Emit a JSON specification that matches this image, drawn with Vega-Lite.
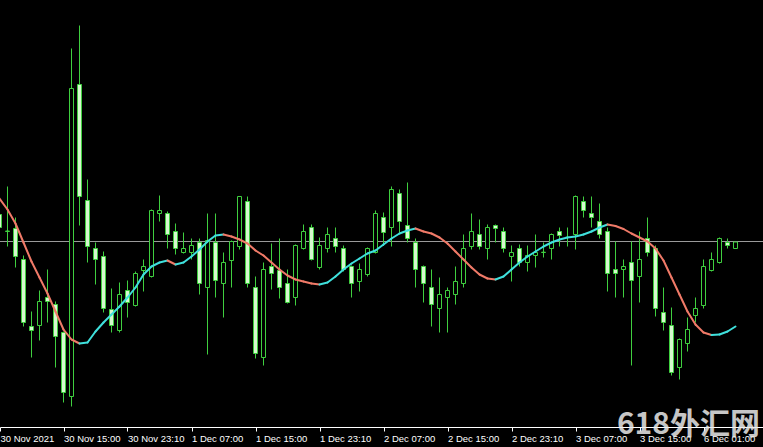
{
  "$schema": "https://vega.github.io/schema/vega-lite/v6.json",
  "width": 763,
  "height": 427,
  "autosize": {"type": "none"},
  "padding": {"left": 0, "top": 0, "right": 0, "bottom": 20},
  "background": "#000000",
  "config": {"view": {"stroke": null}},
  "title": {
    "text": "618外汇网",
    "orient": "bottom",
    "anchor": "end",
    "frame": "group",
    "offset": -33,
    "dx": -3,
    "font": "Noto Sans CJK SC",
    "fontWeight": "bold",
    "fontSize": 30,
    "color": "rgba(235,235,235,0.85)"
  },
  "datasets": {
    "bars": [
      {"k":0,"o":1.1785,"h":1.1792,"l":1.1768,"c":1.1772,"ma":1.1801},
      {"k":1,"o":1.1768,"h":1.1813,"l":1.1753,"c":1.17685,"ma":1.1790},
      {"k":2,"o":1.1771,"h":1.1782,"l":1.1732,"c":1.1743,"ma":1.1776},
      {"k":3,"o":1.1740,"h":1.1744,"l":1.1673,"c":1.1677,"ma":1.1757},
      {"k":4,"o":1.1673,"h":1.1688,"l":1.1642,"c":1.1669,"ma":1.1738},
      {"k":5,"o":1.1674,"h":1.1709,"l":1.1659,"c":1.1698,"ma":1.1722},
      {"k":6,"o":1.1702,"h":1.1730,"l":1.1677,"c":1.1698,"ma":1.1706},
      {"k":7,"o":1.1695,"h":1.1698,"l":1.1632,"c":1.1663,"ma":1.1688},
      {"k":8,"o":1.1667,"h":1.1668,"l":1.1597,"c":1.1607,"ma":1.1670},
      {"k":9,"o":1.1603,"h":1.1951,"l":1.1593,"c":1.1911,"ma":1.1660},
      {"k":10,"o":1.1915,"h":1.1974,"l":1.1774,"c":1.1803,"ma":1.1656},
      {"k":11,"o":1.1799,"h":1.1820,"l":1.1737,"c":1.1753,"ma":1.1657},
      {"k":12,"o":1.1751,"h":1.1757,"l":1.1715,"c":1.1740,"ma":1.1668},
      {"k":13,"o":1.1743,"h":1.1748,"l":1.1687,"c":1.1691,"ma":1.1677},
      {"k":14,"o":1.1690,"h":1.1711,"l":1.1667,"c":1.1674,"ma":1.1685},
      {"k":15,"o":1.1669,"h":1.1717,"l":1.1667,"c":1.1705,"ma":1.1693},
      {"k":16,"o":1.1709,"h":1.1719,"l":1.1682,"c":1.1697,"ma":1.1702},
      {"k":17,"o":1.1694,"h":1.1728,"l":1.1693,"c":1.1726,"ma":1.1712},
      {"k":18,"o":1.1729,"h":1.1740,"l":1.1708,"c":1.1733,"ma":1.1725},
      {"k":19,"o":1.1723,"h":1.1790,"l":1.1722,"c":1.1789,"ma":1.1733},
      {"k":20,"o":1.1786,"h":1.1804,"l":1.1778,"c":1.1789,"ma":1.1737},
      {"k":21,"o":1.1786,"h":1.1788,"l":1.1751,"c":1.1765,"ma":1.1739},
      {"k":22,"o":1.1768,"h":1.1776,"l":1.1745,"c":1.1751,"ma":1.1735},
      {"k":23,"o":1.1747,"h":1.1767,"l":1.1746,"c":1.1751,"ma":1.1737},
      {"k":24,"o":1.1747,"h":1.1761,"l":1.1740,"c":1.1754,"ma":1.1743},
      {"k":25,"o":1.1757,"h":1.1761,"l":1.1705,"c":1.1716,"ma":1.1750},
      {"k":26,"o":1.1712,"h":1.1786,"l":1.1645,"c":1.1759,"ma":1.1758},
      {"k":27,"o":1.1757,"h":1.1786,"l":1.1702,"c":1.1719,"ma":1.1764},
      {"k":28,"o":1.1716,"h":1.1747,"l":1.1682,"c":1.1737,"ma":1.1765},
      {"k":29,"o":1.1739,"h":1.1759,"l":1.1712,"c":1.1758,"ma":1.1763},
      {"k":30,"o":1.1753,"h":1.1803,"l":1.1750,"c":1.1803,"ma":1.1760},
      {"k":31,"o":1.1798,"h":1.1803,"l":1.1712,"c":1.1716,"ma":1.1756},
      {"k":32,"o":1.1712,"h":1.1723,"l":1.1641,"c":1.1646,"ma":1.1749},
      {"k":33,"o":1.1642,"h":1.1737,"l":1.1634,"c":1.1730,"ma":1.1744},
      {"k":34,"o":1.1733,"h":1.1756,"l":1.1710,"c":1.1726,"ma":1.1737},
      {"k":35,"o":1.1729,"h":1.1761,"l":1.1701,"c":1.1712,"ma":1.1730},
      {"k":36,"o":1.1716,"h":1.1730,"l":1.1696,"c":1.1697,"ma":1.1724},
      {"k":37,"o":1.1702,"h":1.1755,"l":1.1694,"c":1.1754,"ma":1.1720},
      {"k":38,"o":1.1751,"h":1.1775,"l":1.1750,"c":1.1768,"ma":1.1718},
      {"k":39,"o":1.1772,"h":1.1775,"l":1.1739,"c":1.1740,"ma":1.1716},
      {"k":40,"o":1.1732,"h":1.1762,"l":1.1730,"c":1.1754,"ma":1.1715},
      {"k":41,"o":1.1751,"h":1.1772,"l":1.1747,"c":1.1765,"ma":1.1717},
      {"k":42,"o":1.1761,"h":1.1772,"l":1.1747,"c":1.1753,"ma":1.1723},
      {"k":43,"o":1.1751,"h":1.1754,"l":1.1728,"c":1.1730,"ma":1.1730},
      {"k":44,"o":1.1733,"h":1.1734,"l":1.1702,"c":1.1716,"ma":1.1736},
      {"k":45,"o":1.1718,"h":1.1736,"l":1.1708,"c":1.1730,"ma":1.1741},
      {"k":46,"o":1.1725,"h":1.1752,"l":1.1723,"c":1.1751,"ma":1.1746},
      {"k":47,"o":1.1747,"h":1.1789,"l":1.1746,"c":1.1786,"ma":1.1749},
      {"k":48,"o":1.1782,"h":1.1787,"l":1.1754,"c":1.1767,"ma":1.1755},
      {"k":49,"o":1.1772,"h":1.1813,"l":1.1753,"c":1.1810,"ma":1.1761},
      {"k":50,"o":1.1806,"h":1.1810,"l":1.1767,"c":1.1778,"ma":1.1766},
      {"k":51,"o":1.1774,"h":1.1817,"l":1.1757,"c":1.1761,"ma":1.1769},
      {"k":52,"o":1.1757,"h":1.1761,"l":1.1712,"c":1.1730,"ma":1.1771},
      {"k":53,"o":1.1733,"h":1.1734,"l":1.1697,"c":1.1716,"ma":1.1768},
      {"k":54,"o":1.1712,"h":1.1730,"l":1.1673,"c":1.1695,"ma":1.1766},
      {"k":55,"o":1.1691,"h":1.1722,"l":1.1667,"c":1.1705,"ma":1.1762},
      {"k":56,"o":1.1702,"h":1.1712,"l":1.1667,"c":1.1709,"ma":1.1756},
      {"k":57,"o":1.1705,"h":1.1733,"l":1.1695,"c":1.1718,"ma":1.1748},
      {"k":58,"o":1.1716,"h":1.1765,"l":1.1712,"c":1.1751,"ma":1.1740},
      {"k":59,"o":1.1753,"h":1.1786,"l":1.1750,"c":1.1768,"ma":1.1732},
      {"k":60,"o":1.1765,"h":1.1780,"l":1.1750,"c":1.1753,"ma":1.1725},
      {"k":61,"o":1.1751,"h":1.1775,"l":1.1740,"c":1.1772,"ma":1.1721},
      {"k":62,"o":1.1774,"h":1.1775,"l":1.1757,"c":1.1771,"ma":1.1720},
      {"k":63,"o":1.1768,"h":1.1772,"l":1.1747,"c":1.1751,"ma":1.1723},
      {"k":64,"o":1.1743,"h":1.1754,"l":1.1718,"c":1.1747,"ma":1.1730},
      {"k":65,"o":1.1751,"h":1.1755,"l":1.1733,"c":1.1737,"ma":1.1737},
      {"k":66,"o":1.1737,"h":1.1754,"l":1.1728,"c":1.1744,"ma":1.1743},
      {"k":67,"o":1.1744,"h":1.1765,"l":1.1732,"c":1.1747,"ma":1.1748},
      {"k":68,"o":1.1747,"h":1.1757,"l":1.1742,"c":1.17473,"ma":1.1753},
      {"k":69,"o":1.1751,"h":1.1766,"l":1.1740,"c":1.1765,"ma":1.1757},
      {"k":70,"o":1.1768,"h":1.1772,"l":1.1753,"c":1.1764,"ma":1.1760},
      {"k":71,"o":1.1762,"h":1.1772,"l":1.1753,"c":1.17623,"ma":1.1762},
      {"k":72,"o":1.1765,"h":1.1804,"l":1.1750,"c":1.1803,"ma":1.1763},
      {"k":73,"o":1.1798,"h":1.1803,"l":1.1782,"c":1.1789,"ma":1.1765},
      {"k":74,"o":1.1786,"h":1.1803,"l":1.1772,"c":1.1782,"ma":1.1768},
      {"k":75,"o":1.1778,"h":1.1796,"l":1.1761,"c":1.1765,"ma":1.1772},
      {"k":76,"o":1.1768,"h":1.1772,"l":1.1708,"c":1.1726,"ma":1.1775},
      {"k":77,"o":1.1730,"h":1.1758,"l":1.1702,"c":1.1726,"ma":1.17735},
      {"k":78,"o":1.1730,"h":1.1740,"l":1.1702,"c":1.1733,"ma":1.17705},
      {"k":79,"o":1.1737,"h":1.1758,"l":1.1634,"c":1.1719,"ma":1.1766},
      {"k":80,"o":1.1723,"h":1.1768,"l":1.1697,"c":1.1740,"ma":1.1762},
      {"k":81,"o":1.1761,"h":1.1782,"l":1.1743,"c":1.1747,"ma":1.1758},
      {"k":82,"o":1.1751,"h":1.1754,"l":1.1683,"c":1.1691,"ma":1.1751},
      {"k":83,"o":1.1687,"h":1.1712,"l":1.1669,"c":1.1677,"ma":1.1739},
      {"k":84,"o":1.1674,"h":1.1692,"l":1.1624,"c":1.1627,"ma":1.1722},
      {"k":85,"o":1.1632,"h":1.1661,"l":1.1620,"c":1.1660,"ma":1.1705},
      {"k":86,"o":1.1656,"h":1.1682,"l":1.1648,"c":1.1670,"ma":1.1688},
      {"k":87,"o":1.1684,"h":1.1702,"l":1.1677,"c":1.1691,"ma":1.1675},
      {"k":88,"o":1.1694,"h":1.1740,"l":1.1691,"c":1.1733,"ma":1.1667},
      {"k":89,"o":1.1729,"h":1.1747,"l":1.1728,"c":1.1740,"ma":1.16645},
      {"k":90,"o":1.1737,"h":1.1762,"l":1.1736,"c":1.1761,"ma":1.1665},
      {"k":91,"o":1.1757,"h":1.1761,"l":1.1751,"c":1.1754,"ma":1.1668},
      {"k":92,"o":1.1751,"h":1.17575,"l":1.1751,"c":1.17575,"ma":1.1673}
    ],
    "bid": [{"price": 1.1758}]
  },
  "layer": [
    {
      "data": {"name": "bid"},
      "mark": {"type": "rule", "color": "#9a9a9a", "strokeWidth": 1},
      "encoding": {
        "y": {"field": "price", "type": "quantitative", "scale": {"domain": [1.15725, 1.19995], "nice": false, "zero": false, "padding": 0}, "axis": null}
      }
    },
    {
      "data": {"name": "bars"},
      "mark": {"type": "rule", "color": "#3fcf3f", "strokeWidth": 1, "clip": true},
      "encoding": {
        "x": {
          "field": "k", "type": "quantitative",
          "scale": {"domain": [0.0625, 95.4375], "nice": false, "zero": false, "padding": 0},
          "axis": {
            "values": [0.0625, 8, 16, 24, 32, 40, 48, 56, 64, 72, 80, 88],
            "labelExpr": "['30 Nov 2021','30 Nov 15:00','30 Nov 23:10','1 Dec 07:00','1 Dec 15:00','1 Dec 23:10','2 Dec 07:00','2 Dec 15:00','2 Dec 23:10','3 Dec 07:00','3 Dec 15:00','6 Dec 01:00'][round(datum.value / 8)]",
            "title": null,
            "grid": false,
            "domainColor": "#ffffff",
            "tickColor": "#ffffff",
            "tickSize": 4,
            "labelColor": "#ffffff",
            "labelAlign": "left",
            "labelBaseline": "top",
            "labelPadding": 2,
            "labelFont": "Liberation Sans",
            "labelFontSize": 9.5,
            "labelFlush": false,
            "labelOverlap": false,
            "labelBound": false
          }
        },
        "y": {"field": "l", "type": "quantitative", "scale": {"domain": [1.15725, 1.19995], "nice": false, "zero": false, "padding": 0}, "axis": null},
        "y2": {"field": "h"}
      }
    },
    {
      "data": {"name": "bars"},
      "mark": {"type": "bar", "width": 4, "stroke": "#3fcf3f", "strokeWidth": 1, "clip": true},
      "encoding": {
        "x": {"field": "k", "type": "quantitative"},
        "y": {"field": "o", "type": "quantitative", "axis": null},
        "y2": {"field": "c"},
        "fill": {"condition": {"test": "datum.c < datum.o", "value": "#d6f8cf"}, "value": "#000000"}
      }
    },
    {
      "data": {"name": "bars"},
      "transform": [
        {"window": [{"op": "lead", "field": "ma", "as": "ma2"}, {"op": "lead", "field": "k", "as": "k2"}], "sort": [{"field": "k"}]},
        {"filter": "datum.ma2 != null"}
      ],
      "mark": {"type": "rule", "strokeWidth": 2, "strokeCap": "round", "clip": true},
      "encoding": {
        "x": {"field": "k", "type": "quantitative"},
        "x2": {"field": "k2"},
        "y": {"field": "ma", "type": "quantitative", "axis": null},
        "y2": {"field": "ma2"},
        "color": {"condition": {"test": "datum.ma2 > datum.ma", "value": "#3fe0dc"}, "value": "#f07a68"}
      }
    }
  ]
}
